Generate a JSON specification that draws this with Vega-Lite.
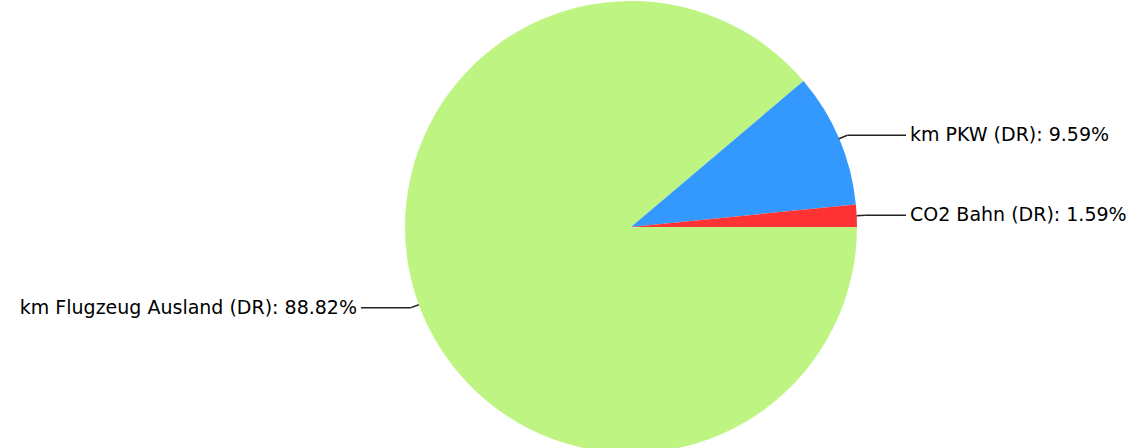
{
  "$schema": "https://vega.github.io/schema/vega-lite/v6.json",
  "width": 992,
  "height": 442,
  "autosize": {"type": "none"},
  "padding": {"left": 135, "top": 6, "right": 0, "bottom": 0},
  "background": "white",
  "config": {"view": {"stroke": null}},
  "data": {
    "values": [
      {"category": "km Flugzeug Ausland (DR)", "value": 88.82},
      {"category": "km PKW (DR)", "value": 9.59},
      {"category": "CO2 Bahn (DR)", "value": 1.59}
    ]
  },
  "transform": [
    {"joinaggregate": [{"op": "sum", "field": "value", "as": "total"}]},
    {"window": [{"op": "sum", "field": "value", "as": "cum"}], "sort": [{"field": "value", "order": "descending"}], "frame": [null, 0]},
    {"calculate": "PI/2 + 2*PI*(datum.cum - datum.value/2)/datum.total", "as": "mid"},
    {"calculate": "226*sin(datum.mid)", "as": "ex"},
    {"calculate": "226*cos(datum.mid)", "as": "ey"},
    {"calculate": "235*sin(datum.mid)", "as": "bx"},
    {"calculate": "235*cos(datum.mid)", "as": "by"},
    {"calculate": "datum.bx > 0 ? 275 : -270", "as": "lx"},
    {"calculate": "datum.bx > 0 ? 279 : -274", "as": "tx"},
    {"calculate": "datum.category + ': ' + format(datum.value, '.2f') + '%'", "as": "label"}
  ],
  "layer": [
    {
      "mark": {"type": "arc", "outerRadius": 226},
      "encoding": {
        "theta": {"field": "value", "type": "quantitative", "stack": true, "scale": {"range": [1.5708, 7.854]}},
        "order": {"field": "value", "sort": "descending"},
        "color": {
          "field": "category",
          "type": "nominal",
          "scale": {"domain": ["km Flugzeug Ausland (DR)", "km PKW (DR)", "CO2 Bahn (DR)"], "range": ["#BEF582", "#3399FF", "#FF3333"]},
          "legend": null
        }
      }
    },
    {
      "mark": {"type": "rule", "color": "#222222", "strokeWidth": 1.5},
      "encoding": {
        "x": {"field": "ex", "type": "quantitative", "scale": {"domain": [-496, 496], "nice": false, "zero": false}, "axis": null},
        "y": {"field": "ey", "type": "quantitative", "scale": {"domain": [-221, 221], "nice": false, "zero": false}, "axis": null},
        "x2": {"field": "bx"},
        "y2": {"field": "by"}
      }
    },
    {
      "mark": {"type": "rule", "color": "#222222", "strokeWidth": 1.5},
      "encoding": {
        "x": {"field": "bx", "type": "quantitative", "axis": null},
        "y": {"field": "by", "type": "quantitative", "axis": null},
        "x2": {"field": "lx"},
        "y2": {"field": "by"}
      }
    },
    {
      "transform": [{"filter": "datum.bx > 0"}],
      "mark": {"type": "text", "align": "left", "baseline": "middle", "font": "DejaVu Sans", "fontSize": 19, "color": "#000000"},
      "encoding": {
        "x": {"field": "tx", "type": "quantitative", "axis": null},
        "y": {"field": "by", "type": "quantitative", "axis": null},
        "text": {"field": "label"}
      }
    },
    {
      "transform": [{"filter": "datum.bx < 0"}],
      "mark": {"type": "text", "align": "right", "baseline": "middle", "font": "DejaVu Sans", "fontSize": 19, "color": "#000000"},
      "encoding": {
        "x": {"field": "tx", "type": "quantitative", "axis": null},
        "y": {"field": "by", "type": "quantitative", "axis": null},
        "text": {"field": "label"}
      }
    }
  ]
}
